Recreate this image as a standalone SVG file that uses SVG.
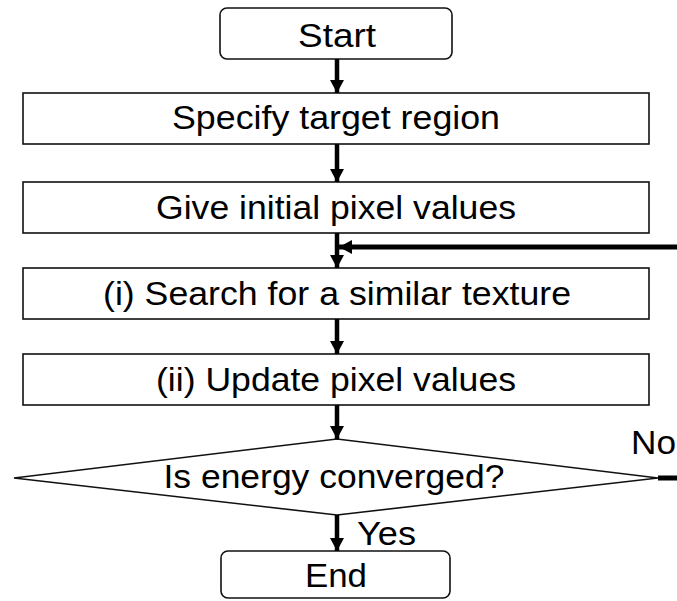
<svg xmlns="http://www.w3.org/2000/svg" width="677" height="601" viewBox="0 0 677 601">
<style>
.box{fill:#fff;stroke:#111;stroke-width:1.6}
.t{font-family:"Liberation Sans",Arial,sans-serif;font-size:32.5px;fill:#000}
.c{text-anchor:middle}
.ln{stroke:#000;stroke-width:4.5;fill:none}
.thick{stroke:#000;stroke-width:5;fill:none}
</style>
<defs>
<marker id="ah" markerUnits="userSpaceOnUse" markerWidth="13" markerHeight="14" refX="13" refY="7" orient="auto" viewBox="0 0 13 14">
<path d="M0,0 L13,7 L0,14 z" fill="#000"/>
</marker>
</defs>
<rect width="677" height="601" fill="#fff"/>
<g id="start">
<rect class="box" x="220" y="8" width="232" height="51" rx="7"/>
<text class="t c" x="337" y="47" textLength="78" lengthAdjust="spacingAndGlyphs">Start</text>
</g>
<g id="specify">
<rect class="box" x="23" y="93" width="626" height="51"/>
<text class="t c" x="336" y="129" textLength="328" lengthAdjust="spacingAndGlyphs">Specify target region</text>
</g>
<g id="give">
<rect class="box" x="23" y="182" width="626" height="51"/>
<text class="t c" x="336" y="219" textLength="360" lengthAdjust="spacingAndGlyphs">Give initial pixel values</text>
</g>
<g id="search">
<rect class="box" x="23" y="268" width="626" height="51"/>
<text class="t c" x="337" y="305" textLength="468" lengthAdjust="spacingAndGlyphs">(i) Search for a similar texture</text>
</g>
<g id="update">
<rect class="box" x="23" y="354" width="626" height="51"/>
<text class="t c" x="336" y="391" textLength="360" lengthAdjust="spacingAndGlyphs">(ii) Update pixel values</text>
</g>
<g id="decision">
<polygon class="box" points="14,478 337,439 658,478 337,515"/>
<text class="t c" x="334" y="488" textLength="341" lengthAdjust="spacingAndGlyphs">Is energy converged?</text>
</g>
<g id="end">
<rect class="box" x="221" y="551" width="229" height="47" rx="7"/>
<text class="t c" x="336" y="587" textLength="62" lengthAdjust="spacingAndGlyphs">End</text>
</g>
<g id="connectors">
<line class="ln" x1="337" y1="59" x2="337" y2="93" marker-end="url(#ah)"/>
<line class="ln" x1="337" y1="144" x2="337" y2="182" marker-end="url(#ah)"/>
<line class="ln" x1="337" y1="233" x2="337" y2="268" marker-end="url(#ah)"/>
<line class="ln" x1="337" y1="319" x2="337" y2="354" marker-end="url(#ah)"/>
<line class="ln" x1="337" y1="405" x2="337" y2="439" marker-end="url(#ah)"/>
<line class="ln" x1="337" y1="515" x2="337" y2="551" marker-end="url(#ah)"/>
<line class="thick" x1="677" y1="247" x2="339" y2="247" marker-end="url(#ah)"/>
<line class="thick" x1="658" y1="478" x2="677" y2="478"/>
<text class="t" x="357" y="545" textLength="59" lengthAdjust="spacingAndGlyphs">Yes</text>
<text class="t" x="631" y="454" textLength="45" lengthAdjust="spacingAndGlyphs">No</text>
</g>
</svg>
